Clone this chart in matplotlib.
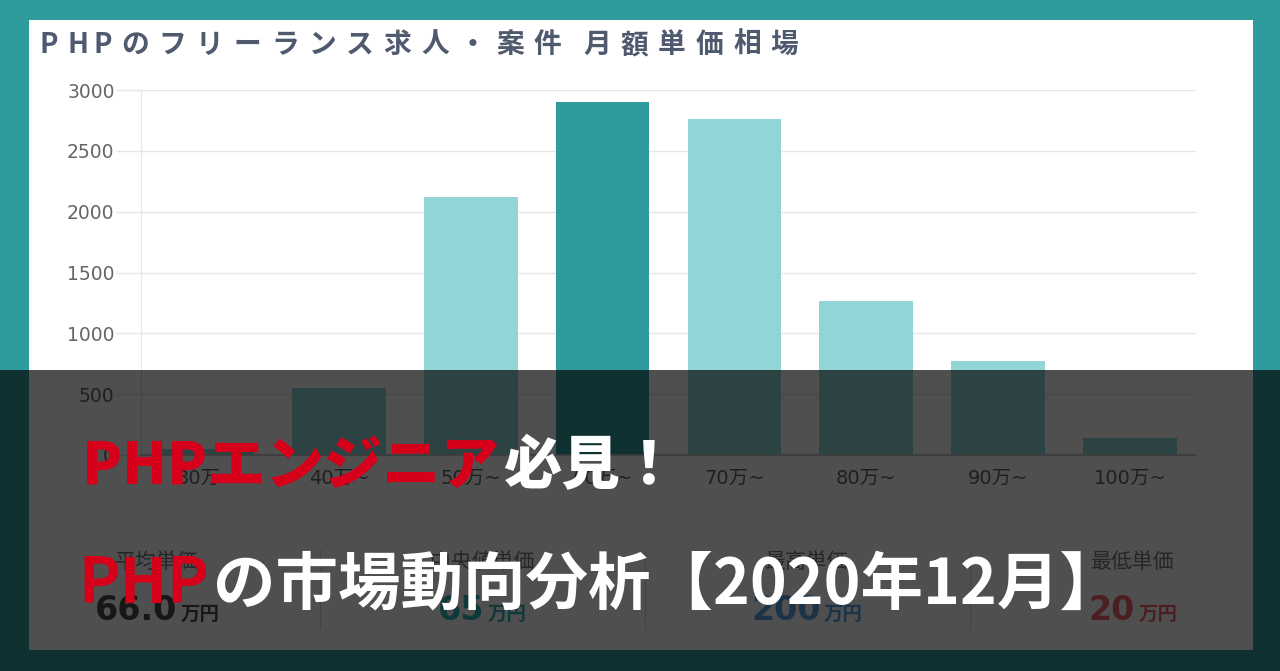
#!/usr/bin/env python3

import matplotlib
matplotlib.use("Agg")
import matplotlib.pyplot as plt
from matplotlib.patches import Rectangle
from matplotlib.lines import Line2D
import numpy as np

# chart data
categories = ['30万~', '40万~', '50万~', '60万~', '70万~', '80万~', '90万~', '100万~']
counts = [50, 550, 2120, 2900, 2760, 1265, 775, 140]
peak_category = '60万~'
y_ticks = [0, 500, 1000, 1500, 2000, 2500, 3000]

stat_labels = ['平均単価', '中央値単価', '最高単価', '最低単価']
stat_values = ['66.0', '65', '200', '20']
stat_unit = '万円'

chart_title = 'PHPのフリーランス求人・案件 月額単価相場'
line1_red, line1_white = 'PHPエンジニア', '必見！'
line2_red, line2_white = 'PHP', 'の市場動向分析【2020年12月】'

W, H = 1280, 671
TEAL = '#2e9b9d'
LIGHT = '#93d5d6'
RED = '#d7001b'
stat_colors = ['#4a4a4a', '#30b4bb', '#5aa6e6', '#f2646f']

CJK = ['Noto Sans CJK JP', 'DejaVu Sans']
LATIN = ['DejaVu Sans', 'Noto Sans CJK JP']


def fx(x):
    return x / W


def fy(y):
    return 1 - y / H


fig = plt.figure(figsize=(W / 100, H / 100), dpi=100)
fig.patch.set_facecolor(TEAL)
renderer = fig.canvas.get_renderer()


def text_width(t):
    return t.get_window_extent(renderer).width


# white card behind the chart
fig.add_artist(Rectangle((fx(29), fy(650)), (1253 - 29) / W, (650 - 20) / H,
                         transform=fig.transFigure, facecolor='white',
                         edgecolor='none', zorder=-2))

# bar chart
ax = fig.add_axes([fx(141), fy(455), (1196 - 141) / W, (455 - 90) / H])
ax.set_facecolor('none')
x = np.arange(len(categories))
colors = [TEAL if c == peak_category else LIGHT for c in categories]
ax.bar(x, counts, width=0.71, color=colors, zorder=2)
ax.set_xlim(-0.5, len(categories) - 0.5)
ax.set_ylim(0, 3000)
ax.set_yticks(y_ticks)
ax.set_xticks(x)
ax.set_xticklabels(categories)
ax.grid(axis='y', color='#e6e6e6', lw=1, zorder=0)
ax.axhline(0, color='#bdbdbd', lw=1.2, zorder=3, clip_on=False)
for s in ['top', 'right', 'bottom']:
    ax.spines[s].set_visible(False)
ax.spines['left'].set_color('#e6e6e6')
ax.tick_params(axis='y', length=18, color='#e6e6e6', width=1, pad=1,
               labelsize=13.5, labelcolor='#666666')
ax.tick_params(axis='x', length=0, pad=10, labelsize=14, labelcolor='#666666')
for lab in ax.get_xticklabels() + ax.get_yticklabels():
    lab.set_family(LATIN)

# title, spaced out like the stretched screenshot
tx = 40
for ch in chart_title:
    fig.text(fx(tx), fy(53), ch, fontsize=20, weight='bold', color='#505a6e',
             family=CJK, va='baseline', ha='left', zorder=1)
    if ch == ' ':
        tx += 12
    elif ord(ch) < 0x2000:
        tx += 27
    else:
        tx += 37.5

# summary stats row
col_centers = [157, 482, 807, 1133]
for cx, lab, val, col in zip(col_centers, stat_labels, stat_values, stat_colors):
    fig.text(fx(cx), fy(568), lab, ha='center', va='baseline', fontsize=15,
             color='#7a7a7a', family=CJK, zorder=1)
    tv = fig.text(0, fy(620), val, fontsize=24, weight='bold', color=col,
                  family=LATIN, va='baseline', ha='left', zorder=1)
    tu = fig.text(0, fy(620), stat_unit, fontsize=14, weight='bold', color=col,
                  family=CJK, va='baseline', ha='left', zorder=1)
    wv, wu = text_width(tv), text_width(tu)
    start = cx - (wv + wu + 3) / 2
    tv.set_x(fx(start))
    tu.set_x(fx(start + wv + 3))
for dx in [320, 645, 970]:
    fig.add_artist(Line2D([fx(dx), fx(dx)], [fy(550), fy(628)],
                          transform=fig.transFigure, color='#dddddd', lw=1, zorder=1))

# dark band over the lower part
fig.add_artist(Rectangle((0, 0), 1, fy(370), transform=fig.transFigure,
                         facecolor='black', alpha=0.69, edgecolor='none', zorder=5))


def two_tone(x0, y0, red, white, size, weight):
    t1 = fig.text(fx(x0), fy(y0), red, color=RED, fontsize=size, weight=weight,
                  family=CJK, va='baseline', ha='left', zorder=6)
    w = text_width(t1)
    fig.text(fx(x0 + w + 4), fy(y0), white, color='white', fontsize=size,
             weight=weight, family=CJK, va='baseline', ha='left', zorder=6)


two_tone(82, 484, line1_red, line1_white, 42, 'black')
two_tone(78, 603, line2_red, line2_white, 45, 'bold')

fig.savefig('out.png', dpi=100, facecolor=fig.get_facecolor())
